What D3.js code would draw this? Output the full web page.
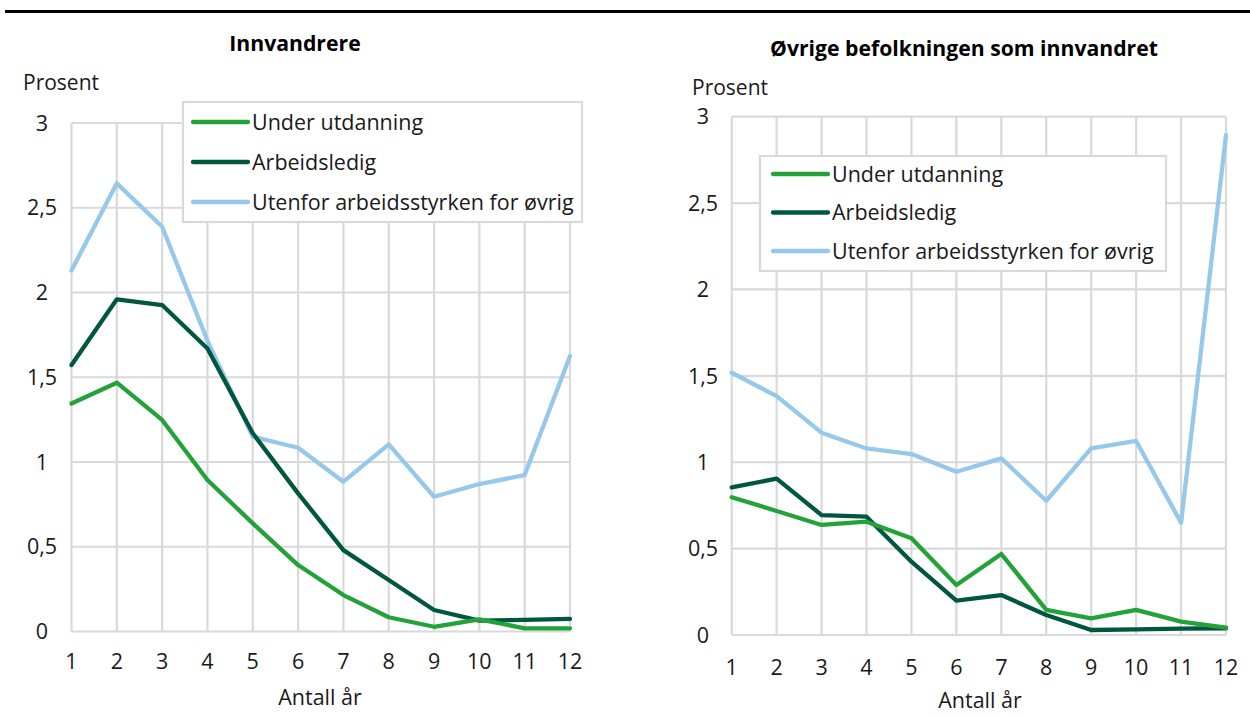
<!DOCTYPE html>
<html>
<head>
<meta charset="utf-8">
<script src="https://cdn.jsdelivr.net/npm/d3@7"></script>
<style>
  html, body { margin: 0; padding: 0; background: #fff; }
  svg { display: block; font-family: "Open Sans", "Noto Sans", sans-serif; }
</style>
</head>
<body>
<svg id="chart" width="1250" height="718"></svg>
<script>
// ---- Data ----
const years = [1, 2, 3, 4, 5, 6, 7, 8, 9, 10, 11, 12];
const xTickLabels = ["1", "2", "3", "4", "5", "6", "7", "8", "9", "10", "11", "12"];
const yTicks = [0, 0.5, 1, 1.5, 2, 2.5, 3];
const yTickLabels = ["0", "0,5", "1", "1,5", "2", "2,5", "3"];
const seriesNames = ["Under utdanning", "Arbeidsledig", "Utenfor arbeidsstyrken for øvrig"];
const panelTitles = ["Innvandrere", "Øvrige befolkningen som innvandret"];

// Panel 1: Innvandrere
const innUnderUtdanning = [1.345, 1.468, 1.248, 0.894, 0.638, 0.392, 0.215, 0.084, 0.028, 0.072, 0.019, 0.019];
const innArbeidsledig   = [1.572, 1.960, 1.926, 1.670, 1.170, 0.815, 0.480, 0.304, 0.127, 0.064, 0.068, 0.074];
const innUtenfor        = [2.130, 2.644, 2.388, 1.715, 1.149, 1.084, 0.884, 1.104, 0.795, 0.870, 0.923, 1.625];

// Panel 2: Øvrige befolkningen som innvandret
const ovrUnderUtdanning = [0.797, 0.718, 0.637, 0.656, 0.560, 0.289, 0.469, 0.145, 0.096, 0.145, 0.077, 0.042];
const ovrArbeidsledig   = [0.855, 0.905, 0.694, 0.685, 0.424, 0.199, 0.231, 0.116, 0.029, 0.033, 0.037, 0.039];
const ovrUtenfor        = [1.518, 1.383, 1.171, 1.080, 1.047, 0.945, 1.022, 0.777, 1.080, 1.123, 0.650, 2.894];

const colors = ["#23a23a", "#00573f", "#96c8ec"];

// ---- Drawing ----
const svg = d3.select("#chart");
const FS = 21.5;

// Top rule
svg.append("line").attr("x1", 5).attr("x2", 1250).attr("y1", 11.5).attr("y2", 11.5)
  .attr("stroke", "#000").attr("stroke-width", 3);

const panels = [
  {
    title: panelTitles[0], titleX: 295, titleY: 51,
    prosentX: 23, prosentY: 90,
    x0: 71.5, x1: 570, y0: 631.5, y1: 123,
    yLabelX: 42, xLabelY: 669, axisTitleX: 320, axisTitleY: 705,
    series: [innUnderUtdanning, innArbeidsledig, innUtenfor],
    legend: { x: 183, y: 102, w: 399, h: 120, items: [122, 162, 202], lx0: 193, lx1: 248, tx: 252 }
  },
  {
    title: panelTitles[1], titleX: 964, titleY: 56,
    prosentX: 692, prosentY: 95,
    x0: 731.7, x1: 1226, y0: 635, y1: 116.7,
    yLabelX: 703, xLabelY: 675, axisTitleX: 980, axisTitleY: 708,
    series: [ovrUnderUtdanning, ovrArbeidsledig, ovrUtenfor],
    legend: { x: 760, y: 156, w: 406, h: 115, items: [174, 212.5, 251], lx0: 773, lx1: 828, tx: 832 }
  }
];

panels.forEach(p => {
  const g = svg.append("g");
  const x = d3.scaleLinear().domain([1, 12]).range([p.x0, p.x1]);
  const y = d3.scaleLinear().domain([0, 3]).range([p.y0, p.y1]);

  // Title
  g.append("text").attr("x", p.titleX).attr("y", p.titleY)
    .attr("text-anchor", "middle").attr("font-size", 21.2).attr("font-weight", "bold")
    .attr("fill", "#000").text(p.title);

  // Prosent
  g.append("text").attr("x", p.prosentX).attr("y", p.prosentY)
    .attr("font-size", 21).attr("fill", "#1a1a1a").text("Prosent");

  // Gridlines
  g.append("g").selectAll("line.h").data(yTicks).join("line")
    .attr("x1", p.x0).attr("x2", p.x1)
    .attr("y1", d => y(d)).attr("y2", d => y(d))
    .attr("stroke", "#d9d9d9").attr("stroke-width", 2.2);
  g.append("g").selectAll("line.v").data(years).join("line")
    .attr("x1", d => x(d)).attr("x2", d => x(d))
    .attr("y1", p.y0).attr("y2", p.y1)
    .attr("stroke", "#d9d9d9").attr("stroke-width", 2.2);

  // Y tick labels
  g.append("g").selectAll("text").data(yTicks).join("text")
    .attr("x", p.yLabelX).attr("y", d => y(d)).attr("dy", "0.36em")
    .attr("text-anchor", "middle").attr("font-size", FS).attr("fill", "#1a1a1a")
    .text((d, i) => yTickLabels[i]);

  // X tick labels
  g.append("g").selectAll("text").data(years).join("text")
    .attr("x", d => x(d)).attr("y", p.xLabelY)
    .attr("text-anchor", "middle").attr("font-size", FS).attr("fill", "#1a1a1a")
    .text((d, i) => xTickLabels[i]);

  // Axis title
  g.append("text").attr("x", p.axisTitleX).attr("y", p.axisTitleY)
    .attr("text-anchor", "middle").attr("font-size", FS).attr("fill", "#1a1a1a").text("Antall år");

  // Lines
  const line = d3.line().x((d, i) => x(years[i])).y(d => y(d));
  const order = [2, 1, 0];
  order.forEach(si => {
    g.append("path").datum(p.series[si])
      .attr("d", line).attr("fill", "none")
      .attr("stroke", colors[si]).attr("stroke-width", 4.3)
      .attr("stroke-linejoin", "round").attr("stroke-linecap", "round");
  });

  // Legend
  const L = p.legend;
  const lg = g.append("g");
  lg.append("rect").attr("x", L.x).attr("y", L.y).attr("width", L.w).attr("height", L.h)
    .attr("fill", "#fff").attr("stroke", "#d9d9d9").attr("stroke-width", 2.2);
  seriesNames.forEach((name, i) => {
    lg.append("line").attr("x1", L.lx0).attr("x2", L.lx1).attr("y1", L.items[i]).attr("y2", L.items[i])
      .attr("stroke", colors[i]).attr("stroke-width", 4.3).attr("stroke-linecap", "round");
    lg.append("text").attr("x", L.tx).attr("y", L.items[i]).attr("dy", "0.35em")
      .attr("font-size", FS).attr("fill", "#1a1a1a").text(name);
  });
});
</script>
</body>
</html>
